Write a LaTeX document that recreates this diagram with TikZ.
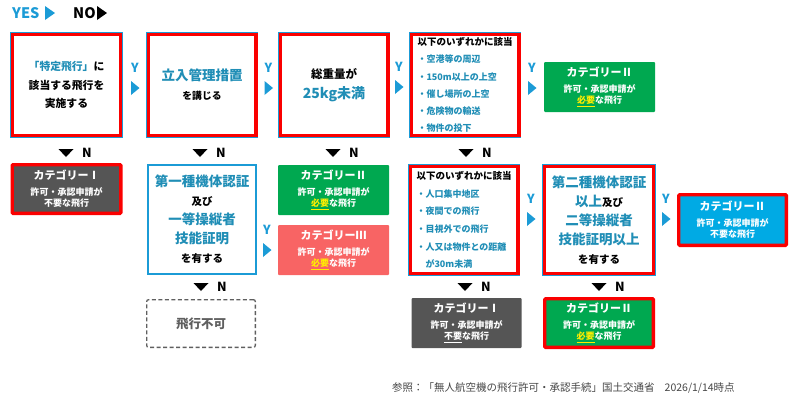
\documentclass[tikz,border=0pt]{standalone}
\usepackage{fontspec}
\setmainfont{Noto Sans CJK JP}
\usepackage{xcolor}
\usepackage{tikz}
\definecolor{flowblue}{RGB}{27,155,214}
\definecolor{textteal}{RGB}{32,142,182}
\definecolor{flowred}{RGB}{250,0,0}
\definecolor{catgreen}{RGB}{0,168,80}
\definecolor{catpink}{RGB}{248,100,100}
\definecolor{catgray}{RGB}{85,85,85}
\definecolor{catblue}{RGB}{0,170,228}
\definecolor{hiyellow}{RGB}{255,238,0}
\definecolor{nogray}{RGB}{95,95,95}
\definecolor{notegray}{RGB}{70,70,70}

\newcommand{\keyterm}[1]{{\fontsize{13.5}{19}\selectfont\textcolor{textteal}{#1}}}
\newcommand{\cattitle}[1]{{\fontsize{11}{11}\selectfont カテゴリー#1}}

\tikzset{
  qbox/.style={draw=flowblue, line width=1.6pt, fill=white, minimum width=108pt,
    minimum height=109pt, inner sep=0pt, align=center, font=\bfseries\fontsize{10.5}{19}\selectfont},
  redframe/.style={preaction={draw=flowblue, line width=4.6pt}, draw=flowred, line width=3.4pt},
  redline/.style={draw=flowred, line width=3.4pt},
  catbox/.style={fill=#1, text=white, rounded corners=1pt, minimum width=111pt,
    minimum height=50pt, inner sep=0pt, align=center, font=\bfseries\fontsize{9}{11.5}\selectfont},
  marklabel/.style={inner sep=0pt, font=\bfseries\fontsize{12.5}{12.5}\selectfont},
  yesmark/.pic={
    \fill[flowblue] (-4pt,7pt) -- (4.5pt,0pt) -- (-4pt,-7pt) -- cycle;
    \node[marklabel, text=flowblue] (-y) at (0pt,20pt) {Y};
  },
  nomark/.pic={
    \fill[black] (-7.5pt,4pt) -- (7.5pt,4pt) -- (0pt,-4pt) -- cycle;
    \node[marklabel] (-n) at (21pt,0pt) {N};
  },
}

\begin{document}
\begin{tikzpicture}[x=1pt, y=-1pt]
    \useasboundingbox (0,0) rectangle (800,407);

    % Legend
    \node[marklabel, font=\bfseries\fontsize{14.5}{14.5}\selectfont, text=flowblue, anchor=west] (yes) at (12,13) {YES};
    \fill[flowblue] (45,6) -- (55,13) -- (45,20) -- cycle;
    \node[marklabel, font=\bfseries\fontsize{14.5}{14.5}\selectfont, anchor=west] (no) at (73,13) {NO};
    \fill[black] (97,6) -- (107,13) -- (97,20) -- cycle;

    % First row of questions
    \node[qbox, redframe, minimum width=107.6pt, minimum height=100.6pt,
      font=\bfseries\fontsize{10.8}{18.5}\selectfont] (special) at (66.5,85)
      {\textcolor{textteal}{「特定飛行」}に\\該当する飛行を\\実施する};
    \node[qbox, redframe, minimum width=107.6pt, minimum height=100.6pt,
      font=\bfseries\fontsize{9.8}{19}\selectfont] (access) at (202,85)
      {\keyterm{立入管理措置}\\を講じる};
    \node[qbox, redframe, minimum width=107.6pt, minimum height=100.6pt,
      font=\bfseries\fontsize{11.5}{20}\selectfont] (weight) at (334,85)
      {総重量が\\{\fontsize{14}{20}\selectfont\textcolor{textteal}{25kg未満}}};
    \node[qbox, redframe, minimum width=107.6pt, minimum height=100.6pt, align=left,
      text=textteal, font=\bfseries\fontsize{9}{17.2}\selectfont] (risky) at (465,85)
      {{\fontsize{9.5}{17.2}\selectfont\textcolor{black}{以下のいずれかに該当}}\\・空港等の周辺\\・150m以上の上空\\・催し場所の上空\\・危険物の輸送\\・物件の投下};
    \node[catbox=catgreen] (catIIa) at (599.5,87)
      {\cattitle{Ⅱ}\\[4pt]許可・承認申請が\\\textcolor{hiyellow}{\underline{必要}}な飛行};

    % Second row
    \node[catbox=catgray, redline, minimum width=108.6pt, minimum height=48.6pt] (catIa) at (66.5,189)
      {\cattitle{Ⅰ}\\[4pt]許可・承認申請が\\不要な飛行};
    \node[qbox] (firstcls) at (202,219.5)
      {\keyterm{第一種機体認証}\\及び\\\keyterm{一等操縦者}\\\keyterm{技能証明}\\を有する};
    \node[catbox=catgreen] (catIIb) at (333.5,190)
      {\cattitle{Ⅱ}\\[4pt]許可・承認申請が\\\textcolor{hiyellow}{\underline{必要}}な飛行};
    \node[catbox=catpink] (catIII) at (333.5,250)
      {\cattitle{Ⅲ}\\[4pt]許可・承認申請が\\\textcolor{hiyellow}{\underline{必要}}な飛行};
    \node[qbox, redframe, minimum width=107.6pt, minimum height=106.6pt, align=left,
      text=textteal, font=\bfseries\fontsize{9}{17.6}\selectfont] (area) at (464,220)
      {{\fontsize{9.5}{17.6}\selectfont\textcolor{black}{以下のいずれかに該当}}\\・人口集中地区\\・夜間での飛行\\・目視外での飛行\\・人又は物件との距離\\\phantom{・}が30m未満};
    \node[qbox, redframe, minimum width=108.6pt, minimum height=106.6pt] (secondcls) at (599,220)
      {\keyterm{第二種機体認証}\\\keyterm{以上}及び\\\keyterm{二等操縦者}\\\keyterm{技能証明以上}\\を有する};
    \node[catbox=catblue, redline, minimum width=107.6pt, minimum height=50.6pt] (catIIc) at (732.5,220)
      {\cattitle{Ⅱ}\\[4pt]許可・承認申請が\\不要な飛行};

    % Third row
    \node[draw=nogray, line width=1.3pt, dash pattern=on 4pt off 2.5pt, rounded corners=2pt,
      minimum width=108.7pt, minimum height=47.7pt, text=nogray,
      font=\bfseries\fontsize{12.5}{12.5}\selectfont] (nofly) at (201,323.5) {飛行不可};
    \node[catbox=catgray, minimum width=110pt] (catIb) at (466.5,323)
      {\cattitle{Ⅰ}\\[4pt]許可・承認申請が\\\underline{不要}な飛行};
    \node[catbox=catgreen, redline, minimum width=108.6pt, minimum height=48.6pt] (catIId) at (599,323)
      {\cattitle{Ⅱ}\\[4pt]許可・承認申請が\\\textcolor{hiyellow}{\underline{必要}}な飛行};

    % Yes marks
    \pic (ym1) at (135,88) {yesmark};
    \pic (ym2) at (268.5,88) {yesmark};
    \pic (ym3) at (399,87) {yesmark};
    \pic (ym4) at (532,88) {yesmark};
    \pic (ym5) at (267,250) {yesmark};
    \pic (ym6) at (531,219) {yesmark};
    \pic (ym7) at (666,219) {yesmark};

    % No marks
    \pic (nm1) at (66,153) {nomark};
    \pic (nm2) at (200,153) {nomark};
    \pic (nm3) at (333,153) {nomark};
    \pic (nm4) at (466,153) {nomark};
    \pic (nm5) at (201,287) {nomark};
    \pic (nm6) at (465,287) {nomark};
    \pic (nm7) at (599,287) {nomark};

    % Source note
    \node[anchor=west, inner sep=0pt, text=notegray, font=\fontsize{10.5}{10.5}\selectfont] (source) at (392,388)
      {参照：「無人航空機の飛行許可・承認手続」国土交通省\hspace{10pt}{\fontsize{10.5}{10.5}\selectfont 2026/1/14時点}};
\end{tikzpicture}
\end{document}
